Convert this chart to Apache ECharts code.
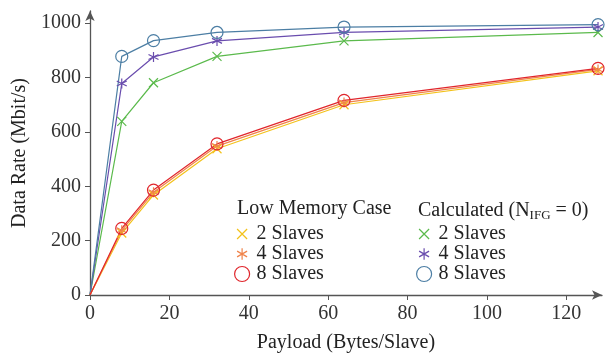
<!DOCTYPE html>
<html>
<head>
<meta charset="utf-8">
<script src="https://cdn.jsdelivr.net/npm/echarts@6/dist/echarts.min.js"></script>
<style>html,body{margin:0;padding:0;background:#fff;}#c{width:614px;height:358px;}</style>
</head>
<body>
<div id="c"></div>
<script>
var payload = [0, 8, 16, 32, 64, 128];
var lowMem2 = [0, 228, 368, 538, 700, 825];
var lowMem4 = [0, 238, 378, 548, 708, 830];
var lowMem8 = [0, 245, 386, 556, 716, 834];
var calc2 = [0, 639, 781, 878, 935, 966];
var calc4 = [0, 778, 876, 935, 966, 986];
var calc8 = [0, 878, 936, 966, 986, 995];
var xTicks = [0, 20, 40, 60, 80, 100, 120];
var yTicks = [0, 200, 400, 600, 800, 1000];
var legendLabels = {'2': '2 Slaves', '4': '4 Slaves', '8': '8 Slaves'};
var groupTitles = ['Low Memory Case', 'Calculated (N', 'IFG', ' = 0)'];

var FONT = 'Liberation Serif';
var CROSS = 'path://M0,0L10,10M10,0L0,10';
var STAR = 'path://M5,0L5,10M0.67,2.5L9.33,7.5M9.33,2.5L0.67,7.5';
var CIRC = 'path://M10,5A5,5,0,1,1,0,5A5,5,0,1,1,10,5Z';
// legend versions padded so the glyphs keep their relative sizes
var CROSS_L = 'path://M-2.5,-2.5M12.5,12.5M0,0L10,10M10,0L0,10';
var STAR_L = 'path://M-1.5,-1.5M11.5,11.5M5,0L5,10M0.67,2.5L9.33,7.5M9.33,2.5L0.67,7.5';
var CIRC_L = CIRC;

var defs = [
  {name: 'L2', vals: lowMem2, color: '#F3C21B', sym: CROSS, lsym: CROSS_L, size: 9},
  {name: 'L4', vals: lowMem4, color: '#F0834A', sym: STAR, lsym: STAR_L, size: 10},
  {name: 'L8', vals: lowMem8, color: '#E0262C', sym: CIRC, lsym: CIRC_L, size: 12},
  {name: 'C2', vals: calc2, color: '#5BBA4C', sym: CROSS, lsym: CROSS_L, size: 9},
  {name: 'C4', vals: calc4, color: '#6A4DAE', sym: STAR, lsym: STAR_L, size: 10},
  {name: 'C8', vals: calc8, color: '#4C7EA4', sym: CIRC, lsym: CIRC_L, size: 12}
];

var series = defs.map(function (d) {
  return {
    name: d.name,
    type: 'line',
    symbol: d.sym,
    symbolSize: d.size,
    showAllSymbol: true,
    z: d.name.charAt(0) === 'L' ? 3 : 2,
    lineStyle: {color: d.color, width: 1.2},
    itemStyle: {color: 'rgba(0,0,0,0)', borderColor: d.color, borderWidth: 1.2},
    emphasis: {disabled: true},
    animation: false,
    data: payload.map(function (x, i) {
      var p = {value: [x, d.vals[i]]};
      if (i === 0) p.symbol = 'none';
      return p;
    })
  };
});

function legendFor(prefix, left) {
  var items = defs.filter(function (d) { return d.name.charAt(0) === prefix; });
  return {
    orient: 'vertical',
    left: left,
    top: 224,
    itemWidth: 15,
    itemHeight: 15,
    itemGap: 0,
    selectedMode: false,
    padding: 0,
    formatter: function (n) { return legendLabels[n.slice(1)]; },
    textStyle: {fontFamily: FONT, fontSize: 20, color: '#222', lineHeight: 20, padding: [0, 0, 0, 2]},
    data: items.map(function (d) {
      return {
        name: d.name,
        icon: d.lsym,
        itemStyle: {color: 'rgba(0,0,0,0)', borderColor: d.color, borderWidth: 1.2}
      };
    })
  };
}

var chart = echarts.init(document.getElementById('c'), null, {renderer: 'canvas'});
chart.setOption({
  backgroundColor: '#fff',
  animation: false,
  grid: {left: 90, right: 12, top: 11, bottom: 58, containLabel: false},
  xAxis: {
    type: 'value', min: 0, max: 129,
    name: 'Payload (Bytes/Slave)', nameLocation: 'middle', nameGap: 38,
    nameTextStyle: {fontFamily: FONT, fontSize: 20, color: '#222'},
    axisLine: {show: true, symbol: ['none', 'arrow'], symbolSize: [7, 10], lineStyle: {color: '#555', width: 1.3}},
    axisTick: {show: true, length: 5, customValues: xTicks, lineStyle: {color: '#555'}},
    axisLabel: {customValues: xTicks, margin: 9, fontFamily: FONT, fontSize: 20, color: '#333',
      formatter: function (v) { return String(v); }},
    splitLine: {show: false}
  },
  yAxis: {
    type: 'value', min: 0, max: 1045,
    name: 'Data Rate (Mbit/s)', nameLocation: 'middle', nameGap: 51,
    nameTextStyle: {fontFamily: FONT, fontSize: 20, color: '#222'},
    axisLine: {show: true, symbol: ['none', 'arrow'], symbolSize: [7, 10], lineStyle: {color: '#555', width: 1.3}},
    axisTick: {show: true, length: 5, customValues: yTicks, lineStyle: {color: '#555'}},
    axisLabel: {customValues: yTicks, margin: 9, fontFamily: FONT, fontSize: 20, color: '#333',
      formatter: function (v) { return String(v); }},
    splitLine: {show: false}
  },
  legend: [legendFor('L', 234), legendFor('C', 416)],
  graphic: [
    {type: 'text', left: 237, top: 199, style: {text: groupTitles[0], font: '20px "Liberation Serif"', fill: '#222'}},
    {type: 'text', left: 418, top: 199, style: {
      text: '{a|' + groupTitles[1] + '}{s|' + groupTitles[2] + '}{a|' + groupTitles[3] + '}',
      rich: {
        a: {fontFamily: FONT, fontSize: 20, fill: '#222', lineHeight: 22},
        s: {fontFamily: FONT, fontSize: 13, fill: '#222', lineHeight: 22, padding: [10, 0, 0, 0]}
      }
    }}
  ],
  series: series
});
</script>
</body>
</html>
